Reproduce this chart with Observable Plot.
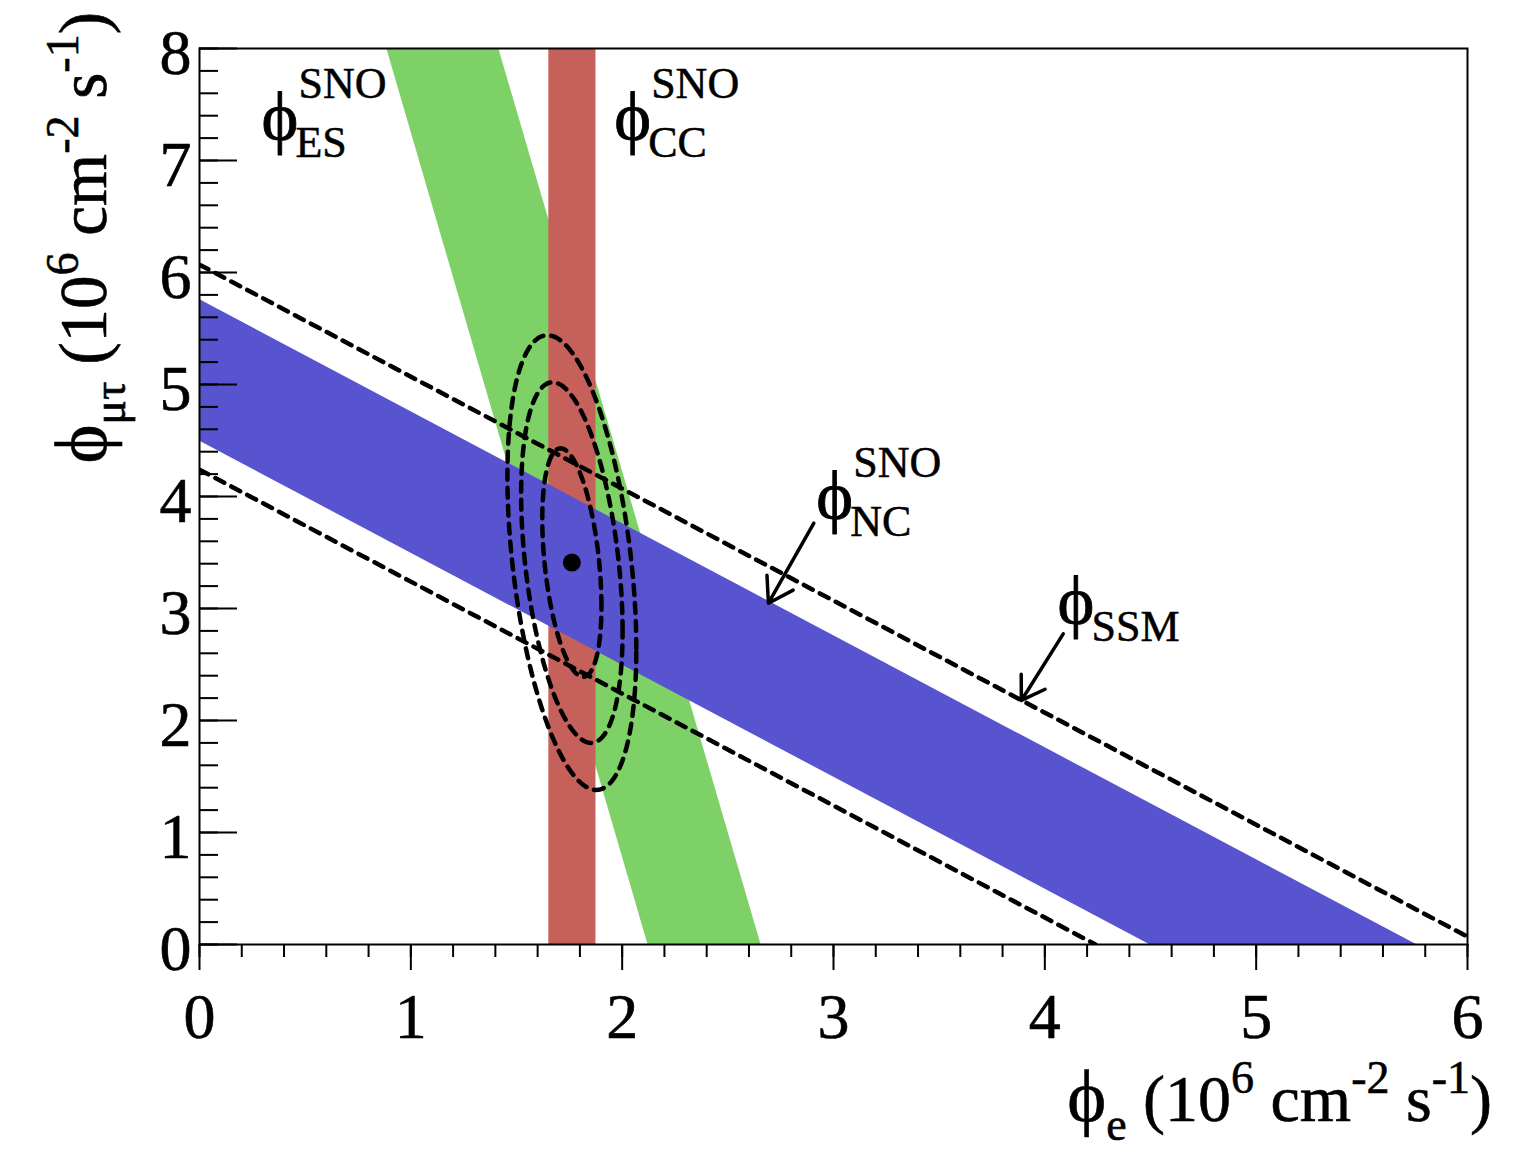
<!DOCTYPE html>
<html>
<head>
<meta charset="utf-8">
<script src="https://cdn.jsdelivr.net/npm/d3@7"></script>
<script src="https://cdn.jsdelivr.net/npm/@observablehq/plot@0.6"></script>
<style>
  html, body { margin: 0; padding: 0; background: #fff; }
  #chart svg { display: block; }
</style>
</head>
<body>
<div id="chart"></div>
<script>
// ---- values (units: 10^6 cm^-2 s^-1) ----
const esBandAtBottom = [2.122, 2.657];   // φe edges of ES band at φμτ = 0
const esBandAtTop    = [0.886, 1.416];   // φe edges of ES band at φμτ = 8
const ccBand         = [1.653, 1.876];   // CC band φe range
const ncBand         = [4.495, 5.758];   // NC band: φe + φμτ range
const ssmBand        = [4.24, 6.07];     // SSM dashed lines: φe + φμτ
const bestFit        = [1.762, 3.41];    // best-fit point
const contourLevels  = ["68%", "95%", "99%"];
const contourHalfX   = [0.14, 0.24, 0.305];
const contourHalfY   = [1.02, 1.61, 2.03];
const contourCorr    = -0.38;
const xMajorTicks = [0, 1, 2, 3, 4, 5, 6];
const yMajorTicks = [0, 1, 2, 3, 4, 5, 6, 7, 8];
const xMinorTicks = d3.range(0, 31).map(i => i / 5);
const yMinorTicks = d3.range(0, 41).map(i => i / 5);
const labelSub = ["ES", "CC", "NC", "SSM"];
const labelSup = ["SNO", "SNO", "SNO", ""];
const labelX   = [0.293, 1.962, 2.918, 4.06];
const labelY   = [7.18, 7.18, 3.795, 2.866];
const arrowFromX = [2.907, 4.087];
const arrowFromY = [3.762, 2.774];
const arrowToX   = [2.692, 3.889];
const arrowToY   = [3.047, 2.179];

// ---- tables built from the arrays ----
const esData = [
  {y: 0, x1: esBandAtBottom[0], x2: esBandAtBottom[1]},
  {y: 8, x1: esBandAtTop[0], x2: esBandAtTop[1]}
];
const ccData = [{x1: ccBand[0], x2: ccBand[1], y1: 0, y2: 8}];
const ncData = [
  {x: 0, y1: ncBand[0], y2: ncBand[1]},
  {x: ncBand[0], y1: 0, y2: ncBand[1] - ncBand[0]},
  {x: ncBand[1], y1: 0, y2: 0}
];
const ssmData = ssmBand.flatMap((s, i) => [{k: i, x: 0, y: s}, {k: i, x: s, y: 0}]);
const delta = Math.acos(contourCorr);
const contourData = contourLevels.flatMap((lv, k) =>
  d3.range(0, 360, 2).map(deg => {
    const t = deg * Math.PI / 180;
    return {level: lv,
            x: bestFit[0] + contourHalfX[k] * Math.cos(t),
            y: bestFit[1] + contourHalfY[k] * Math.cos(t - delta)};
  }));
const labelData = labelSub.map((s, i) => ({sub: s, sup: labelSup[i], x: labelX[i], y: labelY[i]}));
const arrowData = arrowFromX.map((_, i) => ({x1: arrowFromX[i], y1: arrowFromY[i], x2: arrowToX[i], y2: arrowToY[i]}));

const serif = "'Liberation Serif', 'Times New Roman', serif";
const PHI = "\u03D5";
const ink = {fill: "black", stroke: "black", paintOrder: "fill"};

const chart = Plot.plot({
  width: 1524,
  height: 1164,
  marginLeft: 199,
  marginRight: 57,
  marginTop: 48,
  marginBottom: 220,
  x: {domain: [0, 6]},
  y: {domain: [0, 8]},
  style: {fontFamily: serif, fontSize: "64px", background: "white", color: "black", overflow: "visible"},
  marks: [
    Plot.areaX(esData, {y: "y", x1: "x1", x2: "x2", fill: "#7ed166"}),
    Plot.rect(ccData, {x1: "x1", x2: "x2", y1: "y1", y2: "y2", fill: "#c6605a"}),
    Plot.areaY(ncData, {x: "x", y1: "y1", y2: "y2", fill: "#5853cf"}),
    Plot.line(ssmData, {x: "x", y: "y", z: "k", stroke: "black", strokeWidth: 4.5, strokeDasharray: "10,8", clip: true}),
    Plot.line(contourData, {x: "x", y: "y", z: "level", curve: "linear-closed", stroke: "black", strokeWidth: 4.5, strokeDasharray: "10,8"}),
    Plot.dot([bestFit], {x: d => d[0], y: d => d[1], r: 9, fill: "black"}),
    Plot.arrow(arrowData, {x1: "x1", y1: "y1", x2: "x2", y2: "y2", stroke: "black", strokeWidth: 3.5, headLength: 12, headAngle: 65}),
    Plot.text(labelData, {x: "x", y: "y", text: () => PHI, fontSize: 70, textAnchor: "start", lineAnchor: "bottom", fontFamily: serif, ...ink, strokeWidth: 0.8}),
    Plot.text(labelData, {x: "x", y: "y", text: "sub", fontSize: 44, textAnchor: "start", lineAnchor: "bottom", dx: 34, dy: 17, fontFamily: serif, ...ink, strokeWidth: 0.5}),
    Plot.text(labelData, {x: "x", y: "y", text: "sup", fontSize: 44, textAnchor: "start", lineAnchor: "bottom", dx: 37, dy: -42, fontFamily: serif, ...ink, strokeWidth: 0.5}),
    Plot.frame({stroke: "black", strokeWidth: 2}),
    Plot.axisX({ticks: xMinorTicks, tickSize: 13, fill: "none", label: null, strokeWidth: 2}),
    Plot.axisX({ticks: xMajorTicks, tickSize: 26, tickPadding: 22, label: null, strokeWidth: 2, fontSize: 64, textStroke: "black", textStrokeWidth: 0.6, tickFormat: d => String(d)}),
    Plot.axisY({ticks: yMinorTicks, tickSize: -19, fill: "none", label: null, strokeWidth: 2}),
    Plot.axisY({ticks: yMajorTicks, tickSize: -38, fill: "none", label: null, strokeWidth: 2}),
    Plot.axisY({ticks: yMajorTicks, tickSize: 0, tickPadding: 8, label: null, fontSize: 64, dy: 5, textStroke: "black", textStrokeWidth: 0.6, tickFormat: d => String(d)})
  ]
});

// axis titles with sub/superscripts
const svg = d3.select(chart);
function addTitle(sel, parts) {
  parts.forEach(p => {
    sel.append("tspan").attr("dy", p.dy || 0).attr("font-size", p.fs || null).text(p.t);
  });
}
const titleParts = sub => [
  {t: PHI, fs: 74},
  {t: sub, dy: 19, fs: 46},
  {t: " (10", dy: -19},
  {t: "6", dy: -28, fs: 46},
  {t: " cm", dy: 28},
  {t: "-2", dy: -28, fs: 46},
  {t: " s", dy: 28},
  {t: "-1", dy: -28, fs: 46},
  {t: ")", dy: 28}
];
const xt = svg.append("text")
  .attr("x", 1492).attr("y", 1121)
  .attr("text-anchor", "end")
  .attr("font-family", serif).attr("font-size", 66).attr("fill", "black")
  .attr("stroke", "black").attr("stroke-width", 0.6);
addTitle(xt, titleParts("e"));
const yt = svg.append("text")
  .attr("transform", "translate(106,12) rotate(-90)")
  .attr("text-anchor", "end")
  .attr("font-family", serif).attr("font-size", 67).attr("fill", "black")
  .attr("stroke", "black").attr("stroke-width", 0.6);
addTitle(yt, titleParts("\u03BC\u03C4"));

document.getElementById("chart").appendChild(chart);
</script>
</body>
</html>
